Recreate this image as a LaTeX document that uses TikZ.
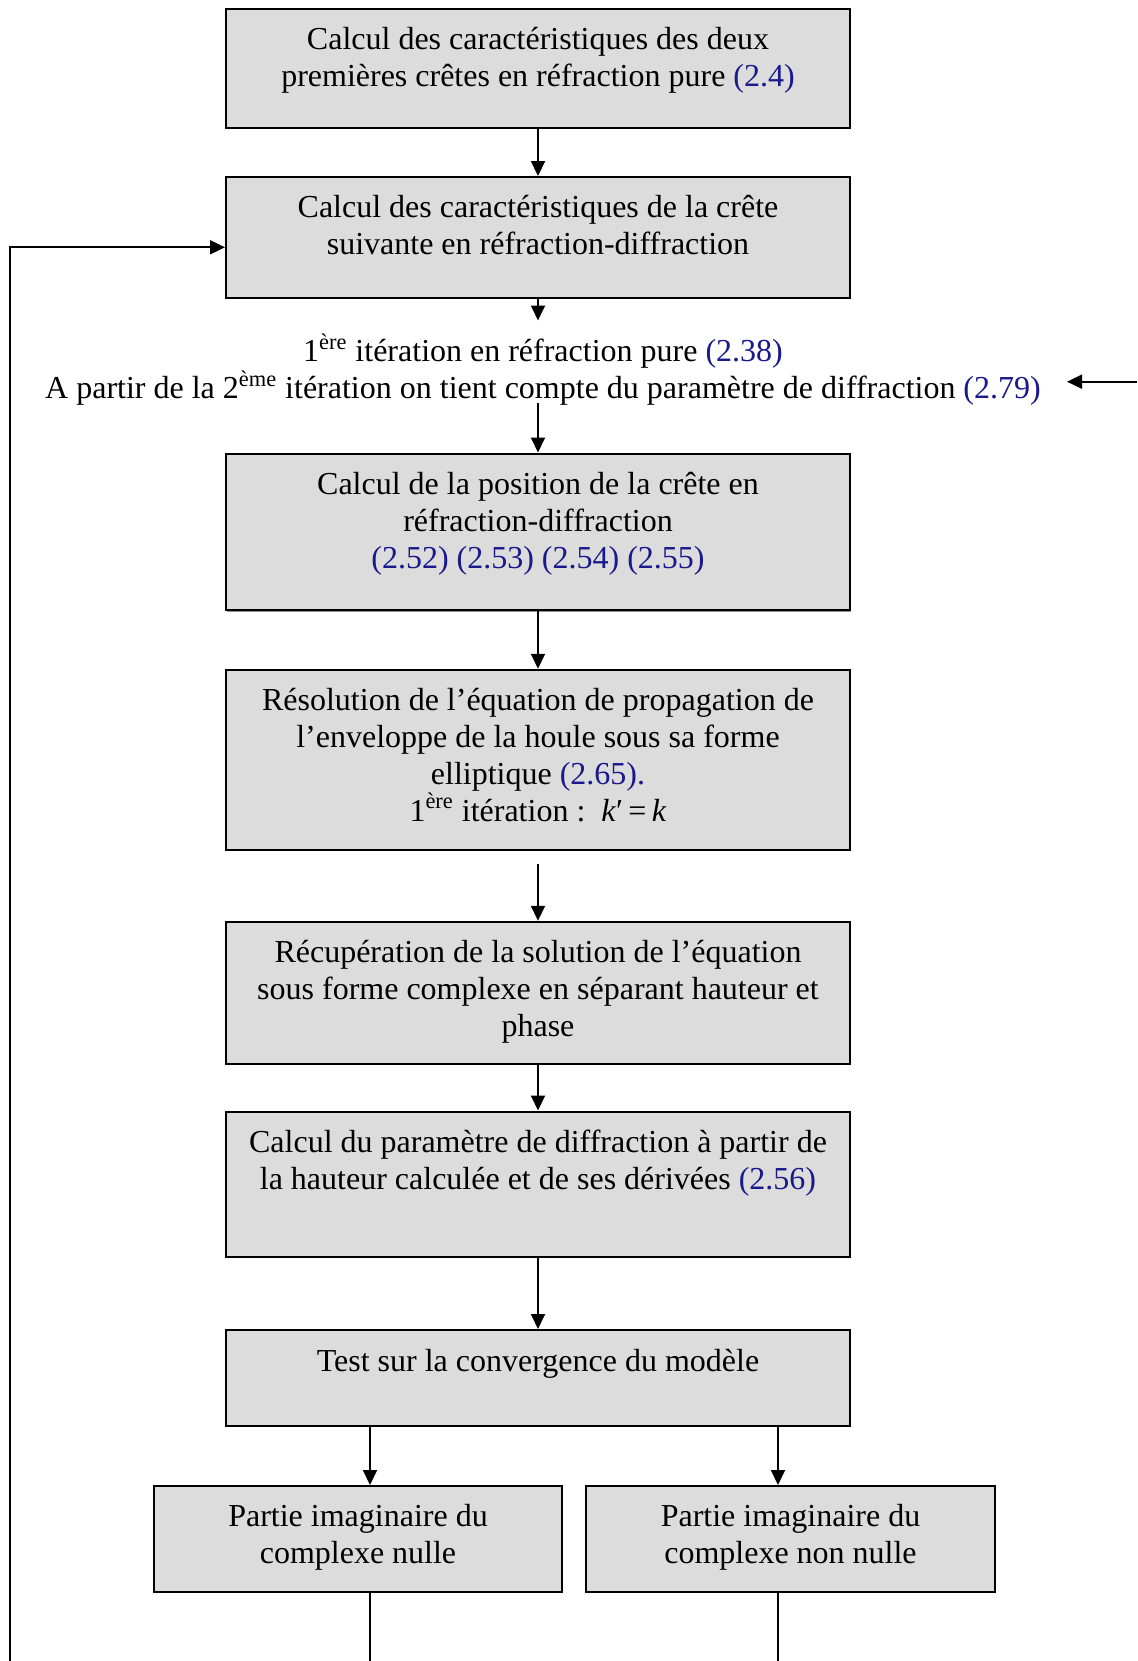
\documentclass[tikz,border=0pt]{standalone}
\usepackage{fontspec}
\setmainfont{Liberation Serif}
\usetikzlibrary{arrows.meta,shadows}
\definecolor{refblue}{RGB}{25,25,140}
\definecolor{boxgray}{RGB}{220,220,220}
\newcommand{\bref}[1]{\textcolor{refblue}{#1}}
\newcommand{\supr}[1]{\smash{\textsuperscript{#1}}}
\begin{document}
\begin{tikzpicture}[x=0.5pt,y=-0.5pt,
  boxnode/.style={draw=black, line width=1pt, fill=boxgray, inner sep=0pt,
    general shadow={fill=gray!85, shadow xshift=0.6pt, shadow yshift=-0.6pt}},
  txt/.style={align=center, inner sep=0pt, anchor=north, font=\fontsize{16}{18.5}\selectfont},
  arr/.style={-{Triangle[length=7.5pt,width=7pt]}, line width=0.9pt},
  ln/.style={line width=0.9pt}]
\useasboundingbox (0,0) rectangle (1137,1661);

% boxes
\node[boxnode, minimum width=312pt, minimum height=59.5pt] (b1) at (538,68.5) {};
\node[boxnode, minimum width=312pt, minimum height=60.25pt] (b2) at (538,237.3) {};
\node[boxnode, minimum width=312pt, minimum height=78.4pt] (b3) at (538,531.9) {};
\node[boxnode, minimum width=312pt, minimum height=90pt] (b4) at (538,759.75) {};
\node[boxnode, minimum width=312pt, minimum height=71pt] (b5) at (538,992.8) {};
\node[boxnode, minimum width=312pt, minimum height=72.6pt] (b6) at (538,1184.1) {};
\node[boxnode, minimum width=312pt, minimum height=48pt] (b7) at (538,1378) {};
\node[boxnode, minimum width=204pt, minimum height=52.75pt] (b8) at (358,1538.75) {};
\node[boxnode, minimum width=204.5pt, minimum height=52.75pt] (b9) at (790.5,1538.75) {};

% texts
\node[txt] (t1) at (538,22.8) {\strut Calcul des caractéristiques des deux\\premières crêtes en réfraction pure \bref{(2.4)}};
\node[txt] (t2) at (538,191.3) {\strut Calcul des caractéristiques de la crête\\suivante en réfraction-diffraction};
\node[txt] (mid) at (543,335.4) {\strut 1\supr{ère} itération en réfraction pure \bref{(2.38)}\\A partir de la 2\supr{ème} itération on tient compte du paramètre de diffraction \bref{(2.79)}};
\node[txt] (t3) at (538,467.9) {\strut Calcul de la position de la crête en\\réfraction-diffraction\\\bref{(2.52) (2.53) (2.54) (2.55)}};
\node[txt] (t4) at (538,684) {\strut Résolution de l’équation de propagation de\\l’enveloppe de la houle sous sa forme\\elliptique \bref{(2.65).}\\1\supr{ère} itération :\ \ \textit{k}′\,=\,\textit{k}};
\node[txt] (t5) at (538,936.2) {\strut Récupération de la solution de l’équation\\sous forme complexe en séparant hauteur et\\phase};
\node[txt] (t6) at (538,1125.9) {\strut Calcul du paramètre de diffraction à partir de\\la hauteur calculée et de ses dérivées \bref{(2.56)}};
\node[txt] (t7) at (538,1345.2) {\strut Test sur la convergence du modèle};
\node[txt] (t8) at (358,1499.9) {\strut Partie imaginaire du\\complexe nulle};
\node[txt] (t9) at (790.5,1499.9) {\strut Partie imaginaire du\\complexe non nulle};

% coordinates
\coordinate (m1) at (538,320.5);
\coordinate (m2) at (538,403);
\coordinate (c4) at (538,863.6);
\coordinate (p8) at (370,1661);
\coordinate (p9) at (778,1661);
\coordinate (lb) at (10,1661);
\coordinate (lt) at (10,247.3);
\coordinate (rs) at (1137,381.7);
\coordinate (re) at (1067,381.7);

% connectors
\draw[arr] (b1) -- (b2);
\draw[arr] (b2.south) -- (m1);
\draw[arr] (m2) -- (b3.north);
\draw[arr] (b3) -- (b4);
\draw[arr] (c4) -- (b5.north);
\draw[arr] (b5) -- (b6);
\draw[arr] (b6) -- (b7);
\draw[arr] (b7.south -| p8) -- (b8.north -| p8);
\draw[arr] (b7.south -| p9) -- (b9.north -| p9);
\draw[ln] (b8.south -| p8) -- (p8);
\draw[ln] (b9.south -| p9) -- (p9);
\draw[arr] (lb) -- (lt) -- (b2.west |- lt);
\draw[arr] (rs) -- (re);
\end{tikzpicture}
\end{document}
